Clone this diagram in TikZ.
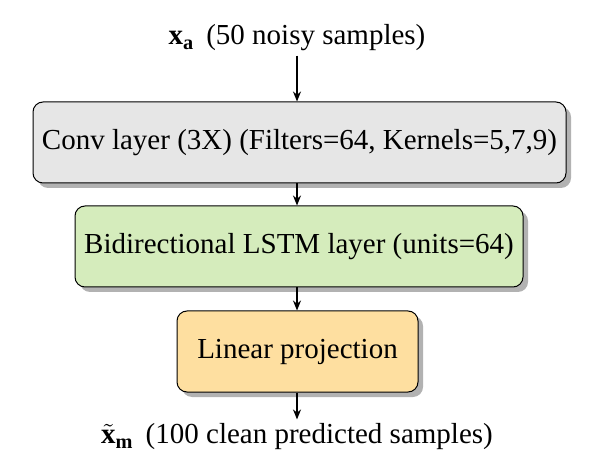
\documentclass[tikz,border=0pt]{standalone}
\usepackage{fontspec}
\setmainfont{Liberation Serif}
\usepackage{amsmath}
\usetikzlibrary{shadows,arrows.meta}
\definecolor{convgray}{RGB}{230,230,230}
\definecolor{lstmgreen}{RGB}{213,236,188}
\definecolor{linorange}{RGB}{254,223,160}
\begin{document}
\begin{tikzpicture}[x=0.5pt,y=-0.5pt,
  font=\fontsize{14.5}{17}\selectfont,
  layerbox/.style={draw=black, line width=0.5pt, rounded corners=5pt, inner sep=0pt,
    minimum height=40.5pt,
    drop shadow={fill=black!30, opacity=1, shadow xshift=2.5pt, shadow yshift=-2.5pt}},
  flow/.style={-{Stealth[length=5pt,width=4pt]}, line width=0.7pt}]
\useasboundingbox (0,0) rectangle (598,469);
\node[inner sep=2pt] (in) at (297,38) {$\text{\textbf{x}}_{\text{\textbf{a}}}$\, (50 noisy samples)};
\node[layerbox, fill=convgray, minimum width=266.5pt] (conv) at (299.5,142.5) {Conv layer (3X) (Filters=64, Kernels=5,7,9)};
\node[layerbox, fill=lstmgreen, minimum width=224pt] (lstm) at (299,246.5) {Bidirectional LSTM layer (units=64)};
\node[layerbox, fill=linorange, minimum width=120.5pt] (lin) at (297.5,351.5) {Linear projection};
\node[inner sep=2pt] (out) at (297,437) {$\tilde{\text{\textbf{x}}}_{\text{\textbf{m}}}$\, (100 clean predicted samples)};
\draw[flow] (in) -- (in |- conv.north);
\draw[flow] (in |- conv.south) -- (in |- lstm.north);
\draw[flow] (in |- lstm.south) -- (in |- lin.north);
\draw[flow] (in |- lin.south) -- (out);
\end{tikzpicture}
\end{document}
